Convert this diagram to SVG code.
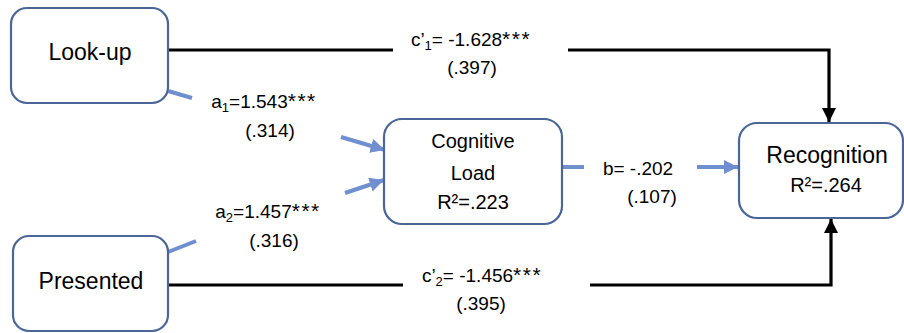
<svg xmlns="http://www.w3.org/2000/svg" width="904" height="333" viewBox="0 0 904 333">
  <defs>
    <style>
      .node { fill: #ffffff; stroke: #4b6696; stroke-width: 2.2; }
      .ntext { font-family: "Liberation Sans", Arial, sans-serif; font-size: 23px; fill: #000; text-anchor: middle; }
      .nsmall { font-family: "Liberation Sans", Arial, sans-serif; font-size: 20px; fill: #000; text-anchor: middle; }
      .lbl { font-family: "Liberation Sans", Arial, sans-serif; font-size: 19px; fill: #000; text-anchor: middle; }
      .sub { font-size: 13px; }
      .stars { font-size: 21px; letter-spacing: 1.5px; }
      .direct { fill: none; stroke: #000; stroke-width: 3.2; }
      .medi { fill: none; stroke: #6f8fd0; stroke-width: 4; }
    </style>
    <marker id="arrowBlack" viewBox="0 0 10 10" refX="10" refY="5" markerWidth="4.4" markerHeight="4.4" markerUnits="strokeWidth" orient="auto">
      <path d="M0,0 L10,5 L0,10 Z" fill="#000"/>
    </marker>
    <marker id="arrowBlue" viewBox="0 0 10 10" refX="10" refY="5" markerWidth="3.6" markerHeight="3.6" markerUnits="strokeWidth" orient="auto">
      <path d="M0,0 L10,5 L0,10 Z" fill="#6f8fd0"/>
    </marker>
  </defs>

  <!-- connectors -->
  <g id="connectors">
    <!-- direct paths (c') -->
    <path class="direct" d="M168,50 H393"/>
    <path class="direct" d="M568,50 H829 V122" marker-end="url(#arrowBlack)"/>
    <path class="direct" d="M168,285 H403"/>
    <path class="direct" d="M590,285 H831 V219" marker-end="url(#arrowBlack)"/>
    <!-- mediated paths (a1, a2, b) -->
    <path class="medi" d="M168,91 L192,98"/>
    <path class="medi" d="M341,137 L385,150" marker-end="url(#arrowBlue)"/>
    <path class="medi" d="M168,252 L196,241"/>
    <path class="medi" d="M345,193 L384,180" marker-end="url(#arrowBlue)"/>
    <path class="medi" d="M562,167 H584"/>
    <path class="medi" d="M697,167 H738" marker-end="url(#arrowBlue)"/>
  </g>

  <!-- path coefficients -->
  <g id="labels">
    <text class="lbl" x="471" y="46">c’<tspan class="sub" dy="4">1</tspan><tspan dy="-4">= -1.628</tspan><tspan class="stars">***</tspan></text>
    <text class="lbl" x="472" y="74">(.397)</text>
    <text class="lbl" x="264" y="108">a<tspan class="sub" dy="4">1</tspan><tspan dy="-4">=1.543</tspan><tspan class="stars">***</tspan></text>
    <text class="lbl" x="270" y="137">(.314)</text>
    <text class="lbl" x="268" y="218">a<tspan class="sub" dy="4">2</tspan><tspan dy="-4">=1.457</tspan><tspan class="stars">***</tspan></text>
    <text class="lbl" x="274" y="247">(.316)</text>
    <text class="lbl" x="482" y="282">c’<tspan class="sub" dy="4">2</tspan><tspan dy="-4">= -1.456</tspan><tspan class="stars">***</tspan></text>
    <text class="lbl" x="481" y="310">(.395)</text>
    <text class="lbl" x="638" y="175">b= -.202</text>
    <text class="lbl" x="652" y="203">(.107)</text>
  </g>

  <g id="lookup">
    <rect class="node" x="11" y="8" width="157" height="95" rx="16"/>
    <text class="ntext" x="90" y="60">Look-up</text>
  </g>

  <g id="presented">
    <rect class="node" x="13" y="236" width="155" height="95" rx="16"/>
    <text class="ntext" x="91" y="289">Presented</text>
  </g>

  <g id="cognitive-load">
    <rect class="node" x="384" y="119" width="178" height="105" rx="18"/>
    <text class="nsmall" x="473" y="148">Cognitive</text>
    <text class="nsmall" x="473" y="180">Load</text>
    <text class="nsmall" x="473" y="209">R²=.223</text>
  </g>

  <g id="recognition">
    <rect class="node" x="739" y="123" width="164" height="95" rx="18"/>
    <text class="ntext" x="827" y="163">Recognition</text>
    <text class="nsmall" x="826" y="192">R²=.264</text>
  </g>
</svg>
